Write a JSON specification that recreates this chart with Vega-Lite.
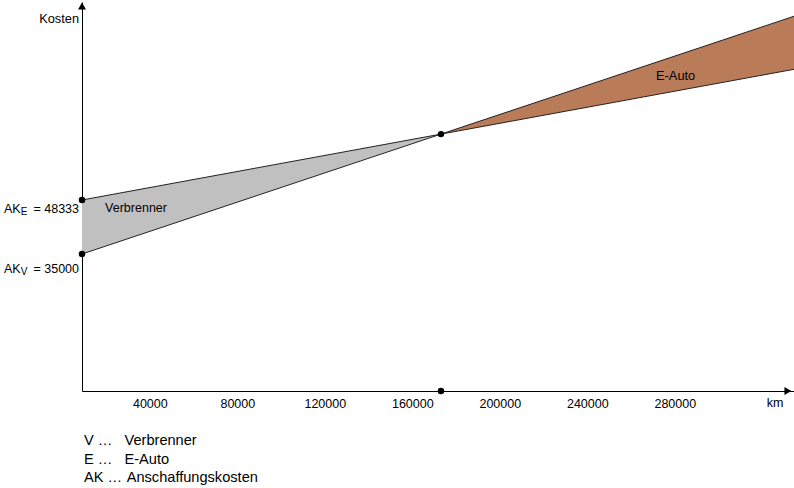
{
  "$schema": "https://vega.github.io/schema/vega-lite/v6.json",
  "width": 712,
  "height": 389,
  "autosize": {"type": "none"},
  "padding": {"left": 82, "top": 2, "right": 0, "bottom": 97},
  "background": "white",
  "config": {
    "view": {"stroke": null},
    "font": "Liberation Sans",
    "text": {"font": "Liberation Sans", "fontSize": 12.5, "color": "black"}
  },
  "datasets": {
    "lines": [
      {"km": 9000, "cost": 48333, "series": "E"},
      {"km": 173100, "cost": 64600, "series": "E"},
      {"km": 334500, "cost": 80600, "series": "E"},
      {"km": 9000, "cost": 35000, "series": "V"},
      {"km": 173100, "cost": 64600, "series": "V"},
      {"km": 334500, "cost": 93700, "series": "V"}
    ],
    "points": [
      {"km": 9000, "cost": 48333},
      {"km": 9000, "cost": 35000},
      {"km": 173100, "cost": 64600},
      {"km": 173100, "cost": 1175}
    ]
  },
  "layer": [
    {
      "data": {"name": "lines"},
      "transform": [
        {"pivot": "series", "value": "cost", "groupby": ["km"]},
        {"filter": "datum.km <= 173100"}
      ],
      "mark": {"type": "area", "color": "#C0C0C0", "opacity": 1},
      "encoding": {
        "x": {
          "field": "km", "type": "quantitative",
          "scale": {"domain": [9000, 334500], "nice": false, "zero": false},
          "axis": {
            "values": [40000, 80000, 120000, 160000, 200000, 240000, 280000],
            "format": "d", "ticks": false, "grid": false, "title": null,
            "domainColor": "black", "domainWidth": 1,
            "labelColor": "black", "labelFont": "Liberation Sans", "labelFontSize": 12.5,
            "labelPadding": 6, "labelFlush": false, "labelOverlap": false
          }
        },
        "y": {
          "field": "E", "type": "quantitative",
          "scale": {"domain": [1175, 97220], "nice": false, "zero": false},
          "axis": {"labels": false, "ticks": false, "grid": false, "title": null, "domainColor": "black", "domainWidth": 1}
        },
        "y2": {"field": "V"}
      }
    },
    {
      "data": {"name": "lines"},
      "transform": [
        {"pivot": "series", "value": "cost", "groupby": ["km"]},
        {"filter": "datum.km >= 173100"}
      ],
      "mark": {"type": "area", "color": "#B97B58", "opacity": 1},
      "encoding": {
        "x": {"field": "km", "type": "quantitative"},
        "y": {"field": "V", "type": "quantitative"},
        "y2": {"field": "E"}
      }
    },
    {
      "data": {"name": "lines"},
      "mark": {"type": "line", "color": "#222222", "strokeWidth": 1},
      "encoding": {
        "x": {"field": "km", "type": "quantitative"},
        "y": {"field": "cost", "type": "quantitative"},
        "detail": {"field": "series"}
      }
    },
    {
      "data": {"name": "points"},
      "mark": {"type": "circle", "color": "black", "size": 42, "opacity": 1},
      "encoding": {
        "x": {"field": "km", "type": "quantitative"},
        "y": {"field": "cost", "type": "quantitative"}
      }
    },
    {
      "data": {"values": [{}]},
      "mark": {"type": "point", "shape": "triangle-right", "filled": true, "color": "black", "size": 64, "opacity": 1},
      "encoding": {"x": {"datum": 331700}, "y": {"datum": 1175}}
    },
    {
      "data": {"values": [{}]},
      "mark": {"type": "point", "shape": "triangle-up", "filled": true, "color": "black", "size": 64, "opacity": 1},
      "encoding": {"x": {"datum": 9000}, "y": {"datum": 96230}}
    },
    {
      "data": {"values": [{}]},
      "mark": {"type": "text", "text": "Kosten", "align": "right", "baseline": "alphabetic", "dx": -3, "fontSize": 12.8},
      "encoding": {"x": {"datum": 9000}, "y": {"datum": 92035}}
    },
    {
      "data": {"values": [{}]},
      "mark": {"type": "text", "text": "AK", "align": "left", "baseline": "alphabetic", "dx": -78, "dy": 13},
      "encoding": {"x": {"datum": 9000}, "y": {"datum": 48333}}
    },
    {
      "data": {"values": [{}]},
      "mark": {"type": "text", "text": "E", "align": "left", "baseline": "alphabetic", "fontSize": 10, "dx": -61.3, "dy": 15},
      "encoding": {"x": {"datum": 9000}, "y": {"datum": 48333}}
    },
    {
      "data": {"values": [{}]},
      "mark": {"type": "text", "text": "= 48333", "align": "right", "baseline": "alphabetic", "dx": -3, "dy": 13},
      "encoding": {"x": {"datum": 9000}, "y": {"datum": 48333}}
    },
    {
      "data": {"values": [{}]},
      "mark": {"type": "text", "text": "AK", "align": "left", "baseline": "alphabetic", "dx": -78, "dy": 18.5},
      "encoding": {"x": {"datum": 9000}, "y": {"datum": 35000}}
    },
    {
      "data": {"values": [{}]},
      "mark": {"type": "text", "text": "V", "align": "left", "baseline": "alphabetic", "fontSize": 10, "dx": -61.3, "dy": 20.5},
      "encoding": {"x": {"datum": 9000}, "y": {"datum": 35000}}
    },
    {
      "data": {"values": [{}]},
      "mark": {"type": "text", "text": "= 35000", "align": "right", "baseline": "alphabetic", "dx": -3, "dy": 18.5},
      "encoding": {"x": {"datum": 9000}, "y": {"datum": 35000}}
    },
    {
      "data": {"values": [{}]},
      "mark": {"type": "text", "text": "Verbrenner", "align": "center", "baseline": "alphabetic"},
      "encoding": {"x": {"datum": 33700}, "y": {"datum": 45370}}
    },
    {
      "data": {"values": [{}]},
      "mark": {"type": "text", "text": "E-Auto", "align": "center", "baseline": "alphabetic", "fontSize": 12.8},
      "encoding": {"x": {"datum": 280380}, "y": {"datum": 77960}}
    },
    {
      "data": {"values": [{}]},
      "mark": {"type": "text", "text": "km", "align": "center", "baseline": "alphabetic", "dy": 16},
      "encoding": {"x": {"datum": 325900}, "y": {"datum": 1175}}
    },
    {
      "data": {"values": [{}]},
      "mark": {"type": "text", "text": ["V …", "E …", "AK …"], "fontSize": 14.6, "lineHeight": 18.3, "align": "left", "baseline": "alphabetic", "dx": 2, "dy": 54.3},
      "encoding": {"x": {"datum": 9000}, "y": {"datum": 1175}}
    },
    {
      "data": {"values": [{}]},
      "mark": {"type": "text", "text": ["Verbrenner", "E-Auto"], "fontSize": 14.6, "lineHeight": 18.3, "align": "left", "baseline": "alphabetic", "dx": 42.5, "dy": 54.3},
      "encoding": {"x": {"datum": 9000}, "y": {"datum": 1175}}
    },
    {
      "data": {"values": [{}]},
      "mark": {"type": "text", "text": "Anschaffungskosten", "fontSize": 14.6, "align": "left", "baseline": "alphabetic", "dx": 44.7, "dy": 91},
      "encoding": {"x": {"datum": 9000}, "y": {"datum": 1175}}
    }
  ]
}
